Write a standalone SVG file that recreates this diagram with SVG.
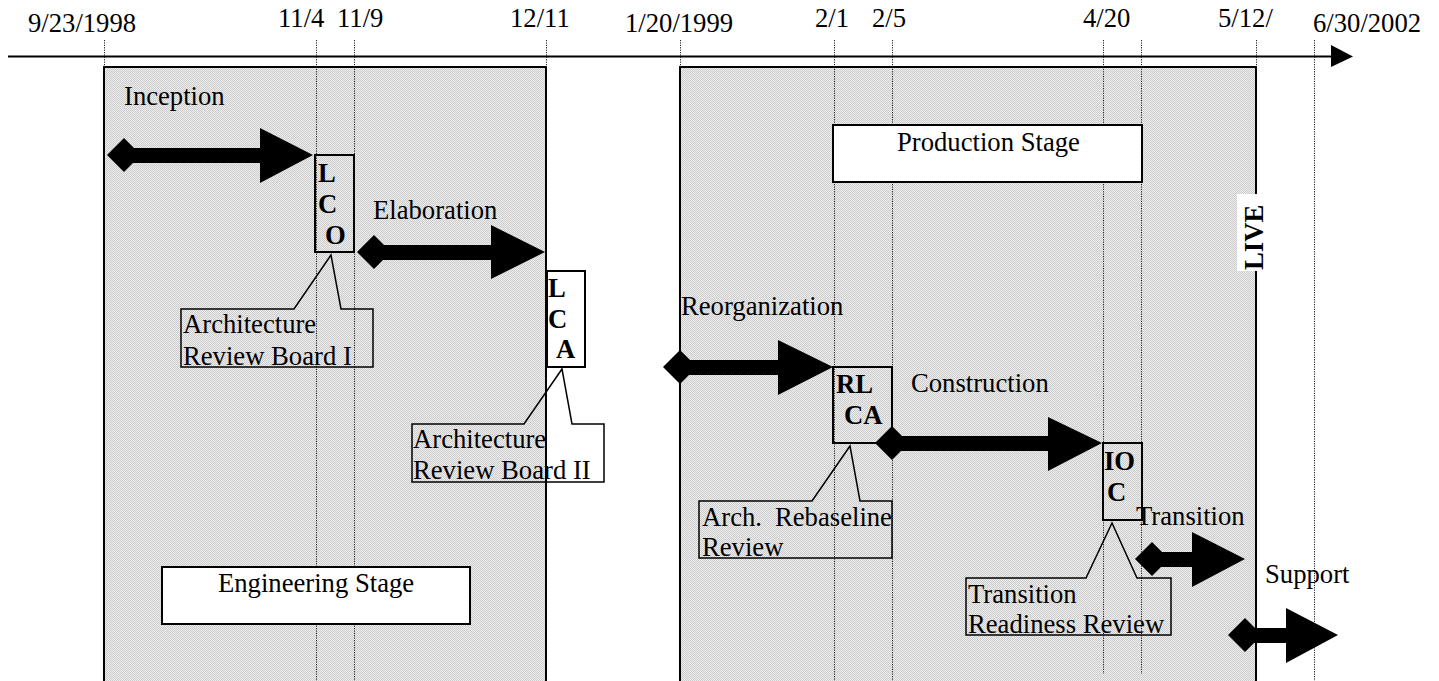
<svg xmlns="http://www.w3.org/2000/svg" width="1439" height="681" viewBox="0 0 1439 681">
<style>
text{font-family:"Liberation Serif","Times New Roman",serif;font-size:26.67px;fill:#000}
.b{font-weight:bold}
.stage{fill:url(#dots);stroke:#000;stroke-width:2}
.dot{stroke:#222;stroke-width:1;stroke-dasharray:1.2,1.2;fill:none}
.ms{fill:none;stroke:#000;stroke-width:2}
.box{fill:#fff;stroke:#000;stroke-width:2}
.call{fill:none;stroke:#000;stroke-width:1.5}
.arr{fill:#000}
</style>
<defs>
<pattern id="dots" width="2" height="2" patternUnits="userSpaceOnUse">
<rect width="2" height="2" fill="#ececec"/>
<rect width="1" height="1" fill="#cdcdcd"/>
<rect x="1" y="1" width="1" height="1" fill="#cdcdcd"/>
</pattern>
<path id="dia" d="M-17,0 L0,-17 L17,0 L0,17Z"/>
</defs>
<rect width="1439" height="681" fill="#fff"/>

<g id="axis">
<line x1="8" y1="56.5" x2="1334" y2="56.5" stroke="#000" stroke-width="2"/>
<polygon points="1331,45 1353,56.5 1331,67" fill="#000"/>
<text x="28" y="32">9/23/1998</text>
<text x="278" y="27">11/4</text>
<text x="337" y="27">11/9</text>
<text x="510" y="27">12/11</text>
<text x="625" y="32">1/20/1999</text>
<text x="815" y="27">2/1</text>
<text x="872" y="27">2/5</text>
<text x="1083" y="27">4/20</text>
<text x="1218" y="27">5/12/</text>
<text x="1313" y="32">6/30/2002</text>
</g>

<g id="engineering-region">
<rect class="stage" x="104" y="67" width="442" height="630"/>
</g>
<g id="production-region">
<rect class="stage" x="680" y="67" width="576" height="630"/>
</g>

<g id="date-guides">
<line class="dot" x1="104.5" y1="40" x2="104.5" y2="67"/>
<line class="dot" x1="316.5" y1="40" x2="316.5" y2="681"/>
<line class="dot" x1="354.5" y1="40" x2="354.5" y2="681"/>
<line class="dot" x1="546.5" y1="40" x2="546.5" y2="67"/>
<line class="dot" x1="680.5" y1="40" x2="680.5" y2="67"/>
<line class="dot" x1="834.5" y1="40" x2="834.5" y2="681"/>
<line class="dot" x1="892.5" y1="40" x2="892.5" y2="681"/>
<line class="dot" x1="1103.5" y1="40" x2="1103.5" y2="674"/>
<line class="dot" x1="1141.5" y1="40" x2="1141.5" y2="674"/>
<line class="dot" x1="1256.5" y1="40" x2="1256.5" y2="67"/>
<line class="dot" x1="1314.5" y1="40" x2="1314.5" y2="681"/>
</g>

<g id="production-stage">
<rect class="box" x="833" y="125" width="309" height="57"/>
<text x="897" y="151">Production Stage</text>
</g>
<g id="engineering-stage">
<rect class="box" x="162" y="567" width="308" height="57"/>
<text x="218" y="592">Engineering Stage</text>
</g>

<g id="phase-labels">
<text x="124" y="105">Inception</text>
<text x="373" y="219">Elaboration</text>
<text x="681" y="315">Reorganization</text>
<text x="911" y="392">Construction</text>
<text x="1136" y="525">Transition</text>
<text x="1265" y="583">Support</text>
</g>

<g id="connectors">
<use href="#dia" x="124" y="155" class="arr"/>
<polygon class="arr" points="124,148 260,148 260,128 313,155 260,183 260,163 124,163"/>
<use href="#dia" x="374" y="252" class="arr"/>
<polygon class="arr" points="374,245 491,245 491,225 545,252 491,279 491,260 374,260"/>
<use href="#dia" x="680" y="367" class="arr"/>
<polygon class="arr" points="680,360 778,360 778,340 833,367 778,395 778,375 680,375"/>
<use href="#dia" x="892" y="443" class="arr"/>
<polygon class="arr" points="892,436 1048,436 1048,417 1102,443 1048,471 1048,451 892,451"/>
<use href="#dia" x="1152" y="559" class="arr"/>
<polygon class="arr" points="1152,552 1192,552 1192,532 1245,559 1192,587 1192,567 1152,567"/>
<use href="#dia" x="1245" y="635" class="arr"/>
<polygon class="arr" points="1245,628 1286,628 1286,608 1338,635 1286,663 1286,643 1245,643"/>
</g>

<g id="lco">
<rect class="ms" x="315" y="155" width="39" height="97"/>
<text class="b" x="318" y="182">L</text>
<text class="b" x="318" y="213">C</text>
<text class="b" x="325" y="244">O</text>
</g>
<g id="lca">
<rect class="box" x="547" y="271" width="38" height="96"/>
<text class="b" x="548" y="297">L</text>
<text class="b" x="548" y="328">C</text>
<text class="b" x="556" y="358">A</text>
</g>
<g id="rlca">
<rect class="ms" x="833" y="367" width="59" height="76"/>
<text class="b" x="836" y="393">RL</text>
<text class="b" x="844" y="424">CA</text>
</g>
<g id="ioc">
<rect class="ms" x="1103" y="443" width="39" height="77"/>
<text class="b" x="1104" y="470">IO</text>
<text class="b" x="1107" y="501">C</text>
</g>

<g id="arb1">
<polygon class="call" points="181,309 294,309 331,255 341,309 373,309 373,367 181,367"/>
<text x="183" y="333">Architecture</text>
<text x="183" y="365">Review Board I</text>
</g>
<g id="arb2">
<polygon class="call" points="412,424 524,424 562,369 572,424 604,424 604,482 412,482"/>
<text x="413" y="448">Architecture</text>
<text x="413" y="479">Review Board II</text>
</g>
<g id="arr-review">
<polygon class="call" points="699,501 812,501 850,446 860,501 892,501 892,558 699,558"/>
<text y="526"><tspan x="702">Arch.</tspan><tspan x="775">Rebaseline</tspan></text>
<text x="702" y="556">Review</text>
</g>
<g id="trr">
<polygon class="call" points="966,578 1086,578 1112,523 1137,578 1171,578 1171,635 966,635"/>
<text x="968" y="603">Transition</text>
<text x="968" y="633">Readiness Review</text>
</g>

<g id="live">
<rect x="1237" y="194" width="20" height="77" fill="#fff"/>
<text class="b" transform="translate(1263,270) rotate(-90)">LIVE</text>
</g>
</svg>
